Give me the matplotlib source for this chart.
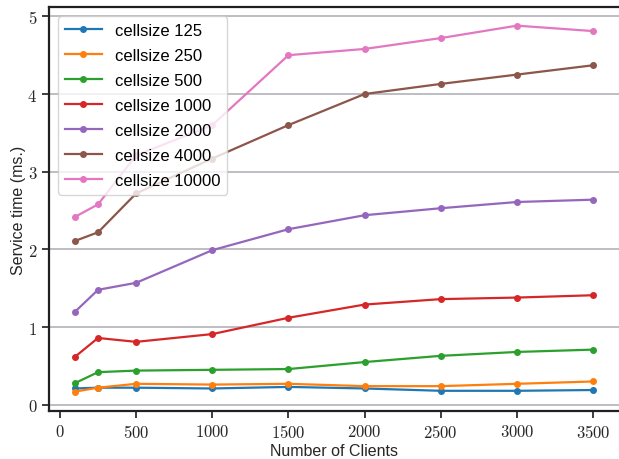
import numpy as np
import matplotlib
matplotlib.use("Agg")
import matplotlib.pyplot as plt
from matplotlib.ticker import FuncFormatter

clients = [100, 250, 500, 1000, 1500, 2000, 2500, 3000, 3500]

cs125 = [0.21, 0.22, 0.22, 0.21, 0.23, 0.21, 0.18, 0.18, 0.19]
cs250 = [0.17, 0.22, 0.27, 0.26, 0.27, 0.24, 0.24, 0.27, 0.30]
cs500 = [0.28, 0.42, 0.44, 0.45, 0.46, 0.55, 0.63, 0.68, 0.71]
cs1000 = [0.62, 0.86, 0.81, 0.91, 1.12, 1.29, 1.36, 1.38, 1.41]
cs2000 = [1.20, 1.48, 1.57, 1.99, 2.26, 2.44, 2.53, 2.61, 2.64]
cs4000 = [2.11, 2.22, 2.72, 3.17, 3.60, 4.00, 4.13, 4.25, 4.37]
cs10000 = [2.42, 2.58, 3.21, 3.60, 4.50, 4.58, 4.72, 4.88, 4.81]

series = [("cellsize 125", cs125), ("cellsize 250", cs250), ("cellsize 500", cs500),
          ("cellsize 1000", cs1000), ("cellsize 2000", cs2000),
          ("cellsize 4000", cs4000), ("cellsize 10000", cs10000)]

plt.rcParams["font.family"] = ["Liberation Sans", "DejaVu Sans"]
plt.rcParams["mathtext.fontset"] = "cm"
plt.rcParams["font.size"] = 11

fig = plt.figure(figsize=(6.19, 4.6), dpi=100)
ax = fig.add_axes([49 / 619, 48 / 460, 1 - 49 / 619, (412 - 8) / 460])

for name, vals in series:
    ax.plot(clients, vals, marker="o", markersize=4, linewidth=1.6, label=name)

ax.set_xlim(-72, 3670)
ax.set_ylim(-0.08, 5.12)
ax.set_xticks([0, 500, 1000, 1500, 2000, 2500, 3000, 3500])
ax.set_yticks([0, 1, 2, 3, 4, 5])
fmt = FuncFormatter(lambda v, p: "$%g$" % v)
ax.xaxis.set_major_formatter(fmt)
ax.yaxis.set_major_formatter(fmt)
ax.tick_params(axis="both", direction="out", length=5, width=1.25, color="#262626",
               labelsize=12, labelcolor="#262626")

ax.yaxis.grid(True, color="#b8b8be", linewidth=1.3)
ax.set_axisbelow(True)
ax.spines["right"].set_visible(False)
for s in ["left", "bottom", "top"]:
    ax.spines[s].set_linewidth(1.6)
    ax.spines[s].set_color("#202020")

ax.set_xlabel("Number of Clients", fontsize=11.5, color="#262626", labelpad=2)
ax.set_ylabel("Service time (ms.)", fontsize=11.5, color="#262626", labelpad=1)

ax.legend(loc="upper left", fontsize=12, framealpha=0.8, borderaxespad=0.55,
          handlelength=2.2, labelspacing=0.6, handletextpad=0.8)

fig.savefig("out.png", dpi=100)
